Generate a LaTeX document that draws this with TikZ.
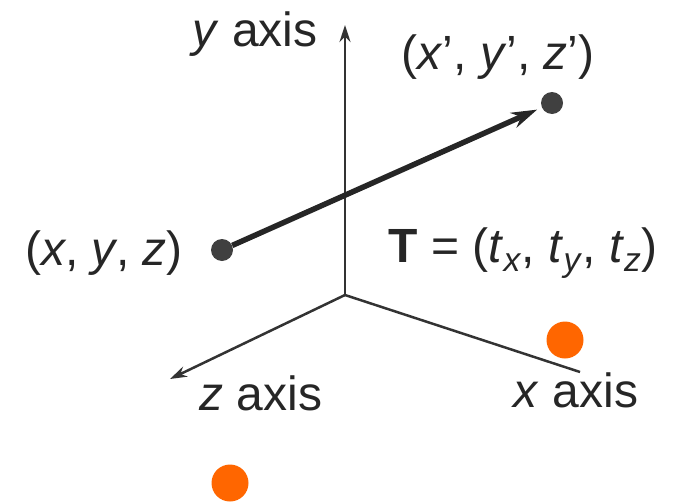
\documentclass[tikz,border=0pt]{standalone}
\usepackage{fontspec}
\setmainfont{Liberation Sans}
\usetikzlibrary{arrows.meta}
\begin{document}
\begin{tikzpicture}[x=1pt,y=-1pt,
  axisline/.style={draw=black!80, line width=2.5pt},
  vecline/.style={draw=black!85, line width=5.5pt, -{Stealth[length=26pt,width=16pt]}, shorten >=5pt},
  ptdot/.style={circle, fill=black!75, minimum size=22pt, inner sep=0pt},
  orangedot/.style={circle, fill=orange!80!red, minimum size=37pt, inner sep=0pt},
  lbl/.style={inner sep=0pt, anchor=base, font=\fontsize{48}{54}\selectfont, text=black!85}]
\useasboundingbox (0,0) rectangle (674,503);
\coordinate (O) at (345,295);
\coordinate (Ytip) at (345,25);
\coordinate (Ztip) at (170,379);
\coordinate (Xend) at (580,372);
\node[ptdot] (P) at (222,250) {};
\node[ptdot] (Q) at (552,103) {};
\draw[axisline, -{Stealth[length=17pt,width=11pt]}] (O) -- (Ytip);
\draw[axisline, -{Stealth[length=17pt,width=11pt]}] (O) -- (Ztip);
\draw[axisline] (O) -- (Xend);
\draw[vecline] (P) -- (Q);
\node[lbl] (ylab) at (255,47) {\textit{y} axis};
\node[lbl] (qlab) at (498,70) {(\textit{x}', \textit{y}', \textit{z}')};
\node[lbl] (plab) at (104,265) {(\textit{x}, \textit{y}, \textit{z})};
\node[lbl] (tlab) at (523,262) {\textbf{T} = (\textit{t}\textsubscript{\textit{x}}, \textit{t}\textsubscript{\textit{y}}, \textit{t}\textsubscript{\textit{z}})};
\node[lbl] (zlab) at (261,410) {\textit{z} axis};
\node[lbl] (xlab) at (576,407) {\textit{x} axis};
\node[orangedot] (o1) at (565,340) {};
\node[orangedot] (o2) at (230,483) {};
\end{tikzpicture}
\end{document}
